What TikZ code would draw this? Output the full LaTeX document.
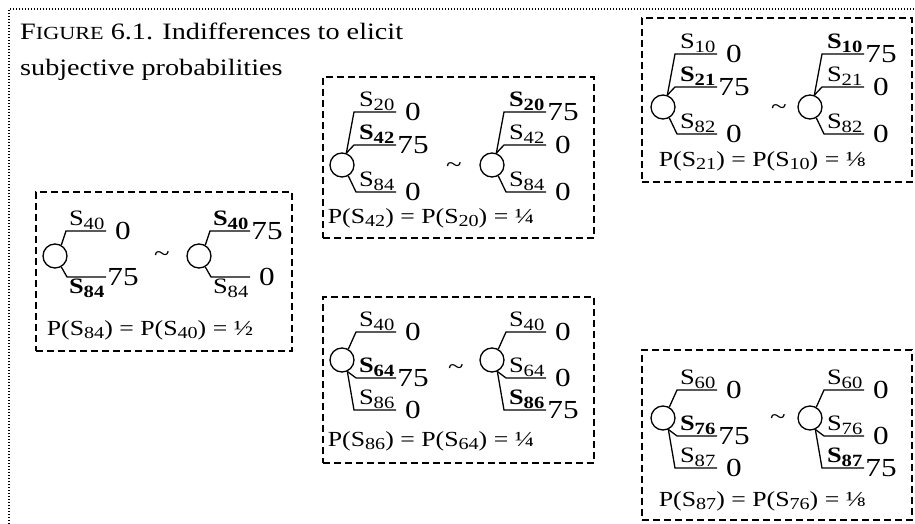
\documentclass[tikz,border=0pt]{standalone}
\usepackage{fontspec}
\setmainfont{Liberation Serif}[FakeStretch=1.2]
\usepackage{tikz}
\newcommand{\ssub}[1]{\raisebox{-0.17em}{\scalebox{0.78}{#1}}}

\begin{document}
\begin{tikzpicture}[x=1pt, y=-1pt,
  frame/.style={draw, dash pattern=on 7pt off 4pt, line width=1.4pt, inner sep=0pt},
  outer/.style={line width=1.3pt, dash pattern=on 1.3pt off 1.7pt},
  chance/.style={draw, circle, minimum size=24pt, inner sep=0pt, line width=1.3pt},
  br/.style={line width=1.3pt},
  slab/.style={anchor=south east, inner sep=1.5pt, font=\fontsize{22}{22}\selectfont},
  slabb/.style={slab, anchor=north east},
  pay/.style={xshift=17pt, inner sep=0pt, font=\fontsize{26}{26}\selectfont},
  sim/.style={inner sep=0pt, font=\fontsize{24}{24}\selectfont},
  prob/.style={inner sep=0pt, font=\fontsize{21.5}{22}\selectfont},
  lottwo/.pic={
    \node[chance] (-c) at (0,0) {};
    \draw[br] (-c.60) -- (11,-25) -- (51,-25) coordinate (-t);
    \draw[br] (-c.-60) -- (12,21) -- (51,21) coordinate (-b);
  },
  lotup/.pic={
    \node[chance] (-c) at (0,0) {};
    \draw[br] (-c.70) -- (12,-53) -- (54,-53) coordinate (-t);
    \draw[br] (-c.70) -- (12,-20) -- (54,-20) coordinate (-m);
    \draw[br] (-c.-60) -- (14,27) -- (54,27) coordinate (-b);
  },
  lotdown/.pic={
    \node[chance] (-c) at (0,0) {};
    \draw[br] (-c.60) -- (14,-28) -- (54,-28) coordinate (-t);
    \draw[br] (-c.-65) -- (14,18) -- (54,18) coordinate (-m);
    \draw[br] (-c.-65) -- (12,50) -- (54,50) coordinate (-b);
  }
]
  \useasboundingbox (0,0) rectangle (915,524);
  \draw[outer] (9,524) -- (9,9) -- (915,9);

  \node[anchor=north west, align=left, inner sep=0pt, font=\fontsize{23.5}{36}\selectfont] (title) at (20,23)
    {F{\fontsize{18.5}{36}\selectfont IGURE} 6.1. Indifferences to elicit\\subjective probabilities};

  % S84 vs S40
  \node[frame, minimum width=256pt, minimum height=159pt] (boxA) at (164,271.5) {};
  \pic (a1) at (55,256) {lottwo};
  \pic (a2) at (199,256) {lottwo};
  \node[slab] (a1s1) at (a1-t) {S\ssub{40}};
  \node[pay] (a1v1) at (a1-t) {0};
  \node[slabb] (a1s2) at (a1-b) {\textbf{S\ssub{84}}};
  \node[pay] (a1v2) at (a1-b) {75};
  \node[slab] (a2s1) at (a2-t) {\textbf{S\ssub{40}}};
  \node[pay] (a2v1) at (a2-t) {75};
  \node[slabb] (a2s2) at (a2-b) {S\ssub{84}};
  \node[pay] (a2v2) at (a2-b) {0};
  \node[sim] (asim) at (162,257) {\textasciitilde};
  \node[prob] (aprob) at (150,330) {P(S\ssub{84}) = P(S\ssub{40}) = ½};

  % S42 vs S20
  \node[frame, minimum width=271pt, minimum height=161pt] (boxB) at (458.5,157.5) {};
  \pic (b1) at (342,165) {lotup};
  \pic (b2) at (492,165) {lotup};
  \node[slab] (b1s1) at (b1-t) {S\ssub{20}};
  \node[pay] (b1v1) at (b1-t) {0};
  \node[slab] (b1s2) at (b1-m) {\textbf{S\ssub{42}}};
  \node[pay] (b1v2) at (b1-m) {75};
  \node[slab] (b1s3) at (b1-b) {S\ssub{84}};
  \node[pay] (b1v3) at (b1-b) {0};
  \node[slab] (b2s1) at (b2-t) {\textbf{S\ssub{20}}};
  \node[pay] (b2v1) at (b2-t) {75};
  \node[slab] (b2s2) at (b2-m) {S\ssub{42}};
  \node[pay] (b2v2) at (b2-m) {0};
  \node[slab] (b2s3) at (b2-b) {S\ssub{84}};
  \node[pay] (b2v3) at (b2-b) {0};
  \node[sim] (bsim) at (454,168) {\textasciitilde};
  \node[prob] (bprob) at (431,218) {P(S\ssub{42}) = P(S\ssub{20}) = ¼};

  % S21 vs S10
  \node[frame, minimum width=270pt, minimum height=164pt] (boxC) at (777,100) {};
  \pic (c1) at (663,107) {lotup};
  \pic (c2) at (810,107) {lotup};
  \node[slab] (c1s1) at (c1-t) {S\ssub{10}};
  \node[pay] (c1v1) at (c1-t) {0};
  \node[slab] (c1s2) at (c1-m) {\textbf{S\ssub{21}}};
  \node[pay] (c1v2) at (c1-m) {75};
  \node[slab] (c1s3) at (c1-b) {S\ssub{82}};
  \node[pay] (c1v3) at (c1-b) {0};
  \node[slab] (c2s1) at (c2-t) {\textbf{S\ssub{10}}};
  \node[pay] (c2v1) at (c2-t) {75};
  \node[slab] (c2s2) at (c2-m) {S\ssub{21}};
  \node[pay] (c2v2) at (c2-m) {0};
  \node[slab] (c2s3) at (c2-b) {S\ssub{82}};
  \node[pay] (c2v3) at (c2-b) {0};
  \node[sim] (csim) at (779,110) {\textasciitilde};
  \node[prob] (cprob) at (762,161) {P(S\ssub{21}) = P(S\ssub{10}) = ⅛};

  % S86 vs S64
  \node[frame, minimum width=271pt, minimum height=166pt] (boxD) at (458.5,380) {};
  \pic (d1) at (342,360) {lotdown};
  \pic (d2) at (492,360) {lotdown};
  \node[slab] (d1s1) at (d1-t) {S\ssub{40}};
  \node[pay] (d1v1) at (d1-t) {0};
  \node[slab] (d1s2) at (d1-m) {\textbf{S\ssub{64}}};
  \node[pay] (d1v2) at (d1-m) {75};
  \node[slab] (d1s3) at (d1-b) {S\ssub{86}};
  \node[pay] (d1v3) at (d1-b) {0};
  \node[slab] (d2s1) at (d2-t) {S\ssub{40}};
  \node[pay] (d2v1) at (d2-t) {0};
  \node[slab] (d2s2) at (d2-m) {S\ssub{64}};
  \node[pay] (d2v2) at (d2-m) {0};
  \node[slab] (d2s3) at (d2-b) {\textbf{S\ssub{86}}};
  \node[pay] (d2v3) at (d2-b) {75};
  \node[sim] (dsim) at (456,370) {\textasciitilde};
  \node[prob] (dprob) at (431,441) {P(S\ssub{86}) = P(S\ssub{64}) = ¼};

  % S87 vs S76
  \node[frame, minimum width=270pt, minimum height=170pt] (boxE) at (777,435) {};
  \pic (e1) at (663,418) {lotdown};
  \pic (e2) at (810,418) {lotdown};
  \node[slab] (e1s1) at (e1-t) {S\ssub{60}};
  \node[pay] (e1v1) at (e1-t) {0};
  \node[slab] (e1s2) at (e1-m) {\textbf{S\ssub{76}}};
  \node[pay] (e1v2) at (e1-m) {75};
  \node[slab] (e1s3) at (e1-b) {S\ssub{87}};
  \node[pay] (e1v3) at (e1-b) {0};
  \node[slab] (e2s1) at (e2-t) {S\ssub{60}};
  \node[pay] (e2v1) at (e2-t) {0};
  \node[slab] (e2s2) at (e2-m) {S\ssub{76}};
  \node[pay] (e2v2) at (e2-m) {0};
  \node[slab] (e2s3) at (e2-b) {\textbf{S\ssub{87}}};
  \node[pay] (e2v3) at (e2-b) {75};
  \node[sim] (esim) at (778,420) {\textasciitilde};
  \node[prob] (eprob) at (762,501) {P(S\ssub{87}) = P(S\ssub{76}) = ⅛};
\end{tikzpicture}
\end{document}
